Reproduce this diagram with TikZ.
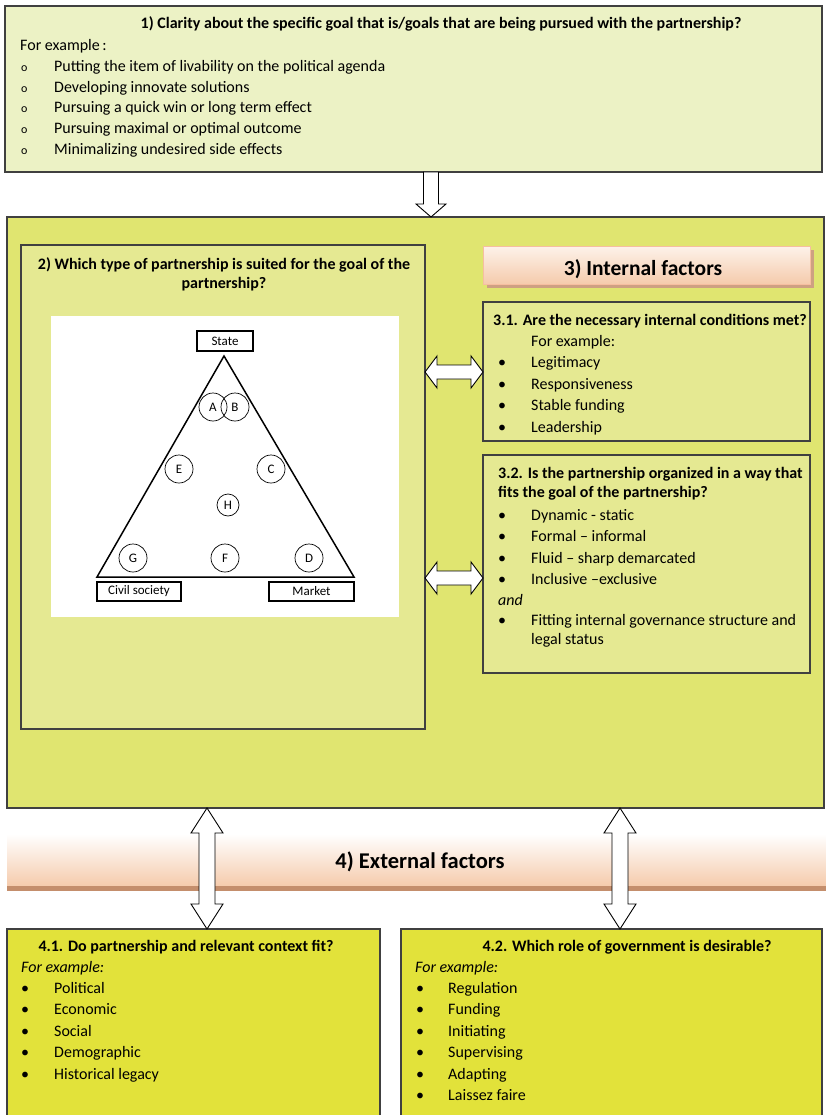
\documentclass[tikz,border=0pt]{standalone}
\usepackage{fontspec}
\setmainfont{Carlito}
\usetikzlibrary{calc}
\definecolor{boxone}{RGB}{236,242,197}
\definecolor{bigbox}{RGB}{224,229,112}
\definecolor{innerbox}{RGB}{229,233,146}
\definecolor{extbox}{RGB}{226,226,58}
\definecolor{edge}{RGB}{64,64,64}
\definecolor{peach}{RGB}{245,203,172}
\definecolor{peachtop}{RGB}{253,242,234}
\definecolor{peachline}{RGB}{196,142,108}
\definecolor{headedge}{RGB}{246,190,160}
\definecolor{headshadow}{RGB}{206,160,130}
\tikzset{
  panel/.style={draw=edge, line width=1.2pt},
  txt/.style={font=\fontsize{16}{19}\selectfont, inner sep=0pt, anchor=mid west, yshift=-4.5pt},
  ttl/.style={font=\fontsize{16}{19}\selectfont\bfseries, inner sep=0pt, anchor=mid, yshift=-4.5pt},
  ttlw/.style={font=\fontsize{16}{19}\selectfont\bfseries, inner sep=0pt, anchor=mid west, yshift=-4.5pt},
  lab/.style={draw=black, line width=1.3pt, fill=white, inner sep=0pt, font=\fontsize{13}{15}\selectfont},
  circ/.style={circle, draw=black, line width=0.7pt, inner sep=0pt, font=\fontsize{13}{15}\selectfont},
  blockarrow/.style={draw=black, line width=0.9pt, fill=white, line join=miter}
}
\newcommand\dblvarrow[2]{%
  \draw[blockarrow] let \p1=(#1), \p2=(#2) in
    (\x1,\y1) -- (\x1+16pt,\y1-25pt) -- (\x1+8pt,\y1-25pt) -- (\x1+8pt,\y2+25pt)
    -- (\x1+16pt,\y2+25pt) -- (\x1,\y2) -- (\x1-16pt,\y2+25pt) -- (\x1-8pt,\y2+25pt)
    -- (\x1-8pt,\y1-25pt) -- (\x1-16pt,\y1-25pt) -- cycle;}
\newcommand\dblharrow[2]{%
  \draw[blockarrow] let \p1=(#1), \p2=(#2) in
    (\x1,\y1) -- (\x1+12pt,\y1+16pt) -- (\x1+12pt,\y1+7pt) -- (\x2-12pt,\y1+7pt)
    -- (\x2-12pt,\y1+16pt) -- (\x2,\y1) -- (\x2-12pt,\y1-16pt) -- (\x2-12pt,\y1-7pt)
    -- (\x1+12pt,\y1-7pt) -- (\x1+12pt,\y1-16pt) -- cycle;}
\begin{document}
\begin{tikzpicture}[x=1pt,y=-1pt]
\useasboundingbox (0,0) rectangle (826,1115);
\fill[white] (0,0) rectangle (826,1115);

% ---------- box 1 ----------
\draw[panel, fill=boxone] (5,6) rectangle (822,172);
\node[ttl] (t1) at (441,22) {1) Clarity about the specific goal that is/goals that are being pursued with the partnership?};
\node[txt] (fe1) at (20,44) {For example\,:};
\foreach \y/\t [count=\i] in {65/Putting the item of livability on the political agenda,
  86/Developing innovate solutions,
  106/Pursuing a quick win or long term effect,
  127/Pursuing maximal or optimal outcome,
  148/Minimalizing undesired side effects}{
  \node[txt] (o\i) at (21,\y) {\fontsize{12}{13}\selectfont o};
  \node[txt] (g\i) at (54,\y) {\t};
}

% ---------- big box ----------
\draw[panel, fill=bigbox] (7,217) rectangle (824,808);

% down arrow from box 1
\coordinate (dtop) at (431,172);
\coordinate (dbot) at (431,217);
\draw[blockarrow] let \p1=(dtop), \p2=(dbot) in
  (\x1-7.5pt,\y1) -- (\x1+7.5pt,\y1) -- (\x1+7.5pt,\y2+13pt) -- (\x1+15pt,\y2+13pt)
  -- (\x2,\y2) -- (\x1-15pt,\y2+13pt) -- (\x1-7.5pt,\y2+13pt) -- cycle;

% ---------- box 2 ----------
\draw[panel, fill=innerbox] (21,245) rectangle (425,729);
\node[ttl] (t2a) at (224,263) {2) Which type of partnership is suited for the goal of the};
\node[ttl] (t2b) at (224,282) {partnership?};
\fill[white] (51,316) rectangle (399,617);
\node[lab, minimum width=56pt, minimum height=20pt] (state) at (225,341) {State};
\coordinate (apex) at (224,356);
\coordinate (bl) at (97,577);
\coordinate (br) at (354,577);
\draw[line width=1.5pt, line join=miter] (apex) -- (br) -- (bl) -- cycle;
\node[circ, minimum size=28pt] (cA) at (213,407) {A};
\node[circ, minimum size=28pt] (cB) at (235,407) {B};
\node[circ, minimum size=28pt] (cE) at (179,469) {E};
\node[circ, minimum size=28pt] (cC) at (271,469) {C};
\node[circ, minimum size=22pt] (cH) at (228,505) {H};
\node[circ, minimum size=28pt] (cG) at (133,558) {G};
\node[circ, minimum size=28pt] (cF) at (225,558) {F};
\node[circ, minimum size=28pt] (cD) at (309,558) {D};
\node[lab, minimum width=84pt, minimum height=19pt] (civil) at (139,591.5) {Civil society};
\node[lab, minimum width=85pt, minimum height=19pt] (market) at (311.5,591.5) {Market};

% ---------- 3) internal factors header ----------
\fill[headshadow] (487,250) rectangle (814,288);
\shade[top color=peachtop, bottom color=peach, draw=headedge, line width=1pt] (483,246) rectangle (810,284);
\node[font=\fontsize{21.5}{24}\selectfont\bfseries, inner sep=0pt, anchor=mid, yshift=-5pt] (t3) at (643,268) {3) Internal factors};

% ---------- box 3.1 ----------
\draw[panel, fill=innerbox] (483,302) rectangle (810,441);
\node[ttlw] (t31) at (493,319) {3.1. Are the necessary internal conditions met?};
\node[txt] (fe31) at (531,340) {For example:};
\foreach \y/\t [count=\i] in {361/Legitimacy,383/Responsiveness,404/Stable funding,426/Leadership}{
  \node[txt] (b31\i) at (498,\y) {•};
  \node[txt] (i31\i) at (531,\y) {\t};
}

% ---------- box 3.2 ----------
\draw[panel, fill=innerbox] (483,455) rectangle (810,673);
\node[ttlw] (t32a) at (498,472) {3.2. Is the partnership organized in a way that};
\node[ttlw] (t32b) at (498,491) {fits the goal of the partnership?};
\foreach \y/\t [count=\i] in {514/Dynamic - static,535/Formal -- informal,557/Fluid -- sharp demarcated,578/Inclusive --exclusive}{
  \node[txt] (b32\i) at (498,\y) {•};
  \node[txt] (i32\i) at (531,\y) {\t};
}
\node[txt] (and) at (498,599) {\itshape and};
\node[txt] (b325) at (498,619) {•};
\node[txt] (i325) at (531,619) {Fitting internal governance structure and};
\node[txt] (i326) at (531,638) {legal status};

% horizontal double arrows
\coordinate (ha1) at (425,372);
\coordinate (hb1) at (483,372);
\coordinate (ha2) at (425,578);
\coordinate (hb2) at (483,578);
\dblharrow{ha1}{hb1}
\dblharrow{ha2}{hb2}

% ---------- 4) external factors band ----------
\shade[top color=white, bottom color=peach] (7,834) rectangle (826,886);
\fill[peachline] (7,886) rectangle (826,891);
\node[font=\fontsize{22.5}{26}\selectfont\bfseries, inner sep=0pt, anchor=mid, yshift=-6pt] (t4) at (420,860) {4) External factors};

% ---------- boxes 4.1 / 4.2 ----------
\draw[panel, fill=extbox] (7,929) rectangle (380,1130);
\draw[panel, fill=extbox] (401,929) rectangle (822,1130);
\node[ttl] (t41) at (186,945) {4.1. Do partnership and relevant context fit?};
\node[txt] (fe41) at (21,966) {\itshape For example:};
\foreach \y/\t [count=\i] in {987/Political,1008/Economic,1030/Social,1051/Demographic,1073/Historical legacy}{
  \node[txt] (b41\i) at (21,\y) {•};
  \node[txt] (i41\i) at (54,\y) {\t};
}
\node[ttl] (t42) at (627,945) {4.2. Which role of government is desirable?};
\node[txt] (fe42) at (415,966) {\itshape For example:};
\foreach \y/\t [count=\i] in {987/Regulation,1008/Funding,1030/Initiating,1051/Supervising,1073/Adapting,1094/Laissez faire}{
  \node[txt] (b42\i) at (416,\y) {•};
  \node[txt] (i42\i) at (448,\y) {\t};
}

% vertical double arrows
\coordinate (va1) at (207,808);
\coordinate (vb1) at (207,929);
\coordinate (va2) at (620,808);
\coordinate (vb2) at (620,929);
\dblvarrow{va1}{vb1}
\dblvarrow{va2}{vb2}
\end{tikzpicture}
\end{document}
